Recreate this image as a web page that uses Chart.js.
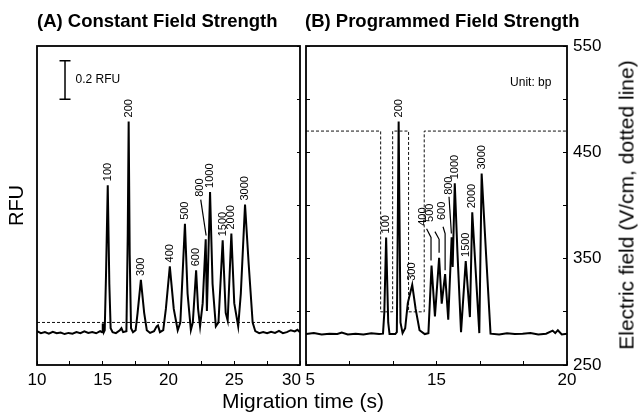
<!DOCTYPE html>
<html>
<head>
<meta charset="utf-8">
<script src="https://cdn.jsdelivr.net/npm/chart.js@4.4.0/dist/chart.umd.min.js"></script>
<style>
  html, body { margin: 0; padding: 0; background: #fff; }
  body { width: 639px; height: 418px; position: relative; overflow: hidden;
         font-family: "Liberation Sans", Arial, sans-serif; color: #000; }
  .panel { position: absolute; top: 0; height: 418px; }
  #wrapA { left: 0; width: 303px; }
  #wrapB { left: 303px; width: 336px; }
  .txt { position: absolute; white-space: nowrap; line-height: 1; }
  .title { top: 12px; font-weight: bold; font-size: 18.5px; }
  #titleA { left: 37px; }
  #titleB { left: 305px; }
  #xTitle { left: 303px; top: 390px; font-size: 21px; transform: translateX(-50%); }
  #fieldTitle { left: 626px; top: 205px; font-size: 21px; transform: translate(-50%, -50%) rotate(-90deg); }
</style>
</head>
<body>
<div class="panel" id="wrapA"><canvas id="chartA" width="303" height="418"></canvas></div>
<div class="panel" id="wrapB"><canvas id="chartB" width="336" height="418"></canvas></div>
<div class="txt title" id="titleA">(A) Constant Field Strength</div>
<div class="txt title" id="titleB">(B) Programmed Field Strength</div>
<div class="txt" id="xTitle">Migration time (s)</div>
<div class="txt" id="fieldTitle">Electric field (V/cm, dotted line)</div>
<script>
// fragment sizes (bp) labelled on the peaks
const sizesBp = ['100', '200', '300', '400', '500', '600', '800', '1000', '1500', '2000', '3000'];

// (A) constant field: trace (time s, RFU)
const timeA = [10.0, 10.3, 10.6, 10.9, 11.2, 11.5, 11.8, 12.1, 12.4, 12.7,
  13.0, 13.3, 13.6, 13.9, 14.2, 14.5, 14.8, 14.95, 15.0, 15.08,
  15.15, 15.25, 15.38, 15.5, 15.6, 15.75, 16.0, 16.3, 16.42, 16.55,
  16.8, 16.9, 16.97, 17.05, 17.15, 17.3, 17.5, 17.65, 17.9, 18.15,
  18.35, 18.6, 18.9, 19.1, 19.2, 19.35, 19.6, 19.8, 20.1, 20.4,
  20.7, 20.9, 21.25, 21.45, 21.7, 21.85, 22.1, 22.25, 22.4, 22.6,
  22.83, 22.92, 23.16, 23.35, 23.6, 23.8, 24.12, 24.35, 24.5, 24.78,
  25.0, 25.3, 25.5, 25.82, 26.1, 26.4, 26.6, 26.9, 27.2, 27.5,
  27.8, 28.1, 28.4, 28.7, 29.0, 29.3, 29.6, 29.8, 30.0];
const rfuA = [0.005, -0.005, 0.0, -0.008, 0.002, -0.006, -0.002, -0.01, -0.004, -0.008,
  0.0, -0.005, 0.004, -0.004, 0.0, -0.006, 0.005, 0.0, 0.045, 0.0,
  0.01, 0.3, 0.76, 0.25, 0.02, 0.0, -0.005, 0.01, 0.02, 0.0,
  0.005, 0.5, 1.09, 0.4, 0.02, 0.0, 0.01, 0.1, 0.27, 0.1,
  0.01, -0.004, 0.005, 0.03, 0.035, 0.0, 0.01, 0.12, 0.34, 0.12,
  0.01, 0.05, 0.56, 0.2, 0.01, 0.05, 0.32, 0.12, 0.03, 0.15,
  0.48, 0.11, 0.725, 0.25, 0.03, 0.05, 0.475, 0.1, 0.06, 0.51,
  0.15, 0.03, 0.2, 0.66, 0.35, 0.05, 0.005, -0.005, 0.0, -0.006,
  0.002, -0.004, 0.006, -0.005, 0.0, 0.01, 0.004, 0.012, 0.0];
const peakTimeA = [15.38, 16.97, 17.9, 20.1, 21.25, 22.1, 22.83, 23.16, 24.12, 24.78, 25.82];
const peakRfuA = [0.76, 1.09, 0.27, 0.34, 0.56, 0.32, 0.48, 0.725, 0.475, 0.51, 0.66];
const calloutsA = [
  { label: '800', text: [22.4, 0.70], line: [[22.45, 0.685], [22.86, 0.5]] }
];
const fieldTimeA = [10, 30];
const fieldA = [290, 290];
const tickLabelsA = ['10', '', '15', '', '20', '', '25', '', '30'];

// (B) programmed field
const timeB = [10.0, 10.3, 10.6, 10.9, 11.2, 11.37, 11.6, 11.9, 12.2, 12.5,
  12.8, 12.95, 13.0, 13.07, 13.15, 13.2, 13.42, 13.48, 13.55, 13.62,
  13.7, 13.8, 13.9, 14.07, 14.2, 14.35, 14.55, 14.69, 14.81, 14.94,
  15.1, 15.2, 15.33, 15.45, 15.58, 15.62, 15.7, 15.8, 15.94, 16.12,
  16.28, 16.37, 16.5, 16.64, 16.73, 16.9, 17.07, 17.4, 17.7, 18.0,
  18.3, 18.6, 18.9, 19.2, 19.45, 19.55, 19.65, 19.8, 20.0];
const rfuB = [-0.01, -0.005, -0.012, -0.008, -0.01, -0.002, -0.012, -0.008, -0.012, -0.006,
  -0.01, -0.008, 0.1, 0.49, 0.05, -0.01, -0.01, 0.0, 1.09, 0.05,
  -0.005, 0.02, 0.15, 0.245, 0.12, 0.01, -0.01, -0.005, 0.344, 0.081,
  0.385, 0.147, 0.30, 0.064, 0.49, 0.337, 0.77, 0.42, 0.0, 0.368,
  0.078, 0.62, 0.32, -0.005, 0.82, 0.4, -0.008, -0.012, -0.006, -0.01,
  -0.008, -0.004, -0.012, -0.008, 0.008, -0.005, 0.01, -0.012, -0.008];
const peakTimeB = [13.07, 13.55, 14.07, 14.81, 15.1, 15.33, 15.58, 15.7, 16.12, 16.37, 16.73];
const peakRfuB = [0.49, 1.09, 0.245, 0.344, 0.385, 0.30, 0.49, 0.77, 0.368, 0.62, 0.82];
const calloutsB = [
  { label: '400', text: [14.48, 0.55], line: [[14.62, 0.535], [14.79, 0.49], [14.79, 0.37]] },
  { label: '500', text: [14.75, 0.57], line: [[14.94, 0.52], [15.1, 0.48], [15.1, 0.41]] },
  { label: '600', text: [15.21, 0.58], line: [[15.25, 0.545], [15.33, 0.51], [15.33, 0.32]] },
  { label: '800', text: [15.48, 0.71], line: [[15.48, 0.70], [15.57, 0.51]] }
];
const fieldTimeB = [10, 12.86, 12.86, 13.32, 13.32, 13.93, 13.93, 14.53, 14.53, 20];
const fieldB = [470, 470, 300, 300, 470, 470, 300, 300, 470, 470];
const tickLabelsB = ['5', '', '', '15', '', '', '20'];
const fieldTickLabels = ['250', '', '350', '', '450', '', '550'];

// 0.2 RFU scale bar and unit note
const scaleBarTime = 12.13;
const scaleBarBase = 1.204;
const scaleBarSpan = 0.2;
const unitTime = 17.82;
const unitRfu = 1.29;

const rfuMin = -0.17;
const rfuMax = 1.48;
const FONT = '"Liberation Sans", Arial, sans-serif';

Chart.defaults.font.family = FONT;
Chart.defaults.color = '#000';

const toPoints = (xs, ys) => xs.map((t, i) => ({ x: t, y: ys[i] }));

// fixed axis sizes so both panels line up with the picture
const fixWidth = w => s => { s.width = w; s.paddingTop = 0; s.paddingBottom = 0; };
const fixHeight = h => s => { s.height = h; s.paddingLeft = 0; s.paddingRight = 0; };

// box round the plot area
const frame = {
  id: 'frame',
  afterDraw(chart) {
    const { ctx, chartArea: a } = chart;
    ctx.save();
    ctx.strokeStyle = '#000';
    ctx.lineWidth = 1.8;
    ctx.strokeRect(a.left, a.top, a.right - a.left, a.bottom - a.top);
    ctx.restore();
  }
};

function peakLabels(times, rfus, callouts) {
  return {
    id: 'peakLabels',
    afterDatasetsDraw(chart) {
      const { ctx, scales: { x, rfu } } = chart;
      ctx.save();
      ctx.font = '11px ' + FONT;
      ctx.fillStyle = '#000';
      ctx.strokeStyle = '#000';
      ctx.lineWidth = 1.2;
      ctx.textAlign = 'left';
      ctx.textBaseline = 'middle';
      sizesBp.forEach((name, i) => {
        const c = callouts.find(o => o.label === name);
        let px, py;
        if (c) {
          px = x.getPixelForValue(c.text[0]);
          py = rfu.getPixelForValue(c.text[1]);
          ctx.beginPath();
          c.line.forEach(([t, v], k) => {
            const X = x.getPixelForValue(t), Y = rfu.getPixelForValue(v);
            if (k) ctx.lineTo(X, Y); else ctx.moveTo(X, Y);
          });
          ctx.stroke();
        } else {
          px = x.getPixelForValue(times[i]);
          py = rfu.getPixelForValue(rfus[i]) - 4;
        }
        ctx.save();
        ctx.translate(px, py);
        ctx.rotate(-Math.PI / 2);
        ctx.fillText(name, 0, 0);
        ctx.restore();
      });
      ctx.restore();
    }
  };
}

const scaleBar = {
  id: 'scaleBar',
  afterDraw(chart) {
    const { ctx, scales: { x, rfu } } = chart;
    const px = x.getPixelForValue(scaleBarTime);
    const top = rfu.getPixelForValue(scaleBarBase + scaleBarSpan);
    const bot = rfu.getPixelForValue(scaleBarBase);
    ctx.save();
    ctx.strokeStyle = '#000';
    ctx.lineWidth = 1.5;
    ctx.beginPath();
    ctx.moveTo(px, top); ctx.lineTo(px, bot);
    ctx.moveTo(px - 5.5, top); ctx.lineTo(px + 5.5, top);
    ctx.moveTo(px - 5.5, bot); ctx.lineTo(px + 5.5, bot);
    ctx.stroke();
    ctx.fillStyle = '#000';
    ctx.font = '12px ' + FONT;
    ctx.textBaseline = 'middle';
    ctx.fillText('0.2 RFU', px + 10.5, (top + bot) / 2);
    ctx.restore();
  }
};

const unitNote = {
  id: 'unitNote',
  afterDraw(chart) {
    const { ctx, scales: { x, rfu } } = chart;
    ctx.save();
    ctx.fillStyle = '#000';
    ctx.font = '12px ' + FONT;
    ctx.textBaseline = 'middle';
    ctx.fillText('Unit: bp', x.getPixelForValue(unitTime), rfu.getPixelForValue(unitRfu));
    ctx.restore();
  }
};

const innerTicks = len => ({ drawOnChartArea: false, tickLength: len, color: '#000', lineWidth: 1 });

const traceStyle = { borderColor: '#000', borderWidth: 2, pointRadius: 0, tension: 0, yAxisID: 'rfu' };
const fieldStyle = { borderColor: '#111', borderWidth: 1, borderDash: [3, 2], pointRadius: 0, tension: 0, yAxisID: 'field' };

new Chart(document.getElementById('chartA'), {
  type: 'line',
  data: {
    datasets: [
      { ...traceStyle, data: toPoints(timeA, rfuA) },
      { ...fieldStyle, data: toPoints(fieldTimeA, fieldA) }
    ]
  },
  options: {
    responsive: false,
    animation: false,
    events: [],
    layout: { padding: { top: 46, right: 3, left: 0, bottom: 0 } },
    plugins: { legend: { display: false }, tooltip: { enabled: false } },
    scales: {
      x: {
        type: 'linear', min: 10, max: 30,
        ticks: {
          stepSize: 2.5, autoSkip: false, maxRotation: 0, padding: 9, font: { size: 17 },
          callback: (v, i) => i === tickLabelsA.length - 1 ? tickLabelsA[i] + '\u2002\u2002' : tickLabelsA[i]
        },
        grid: innerTicks(-4),
        border: { display: false },
        afterFit: fixHeight(53)
      },
      rfu: {
        axis: 'y', position: 'left', min: rfuMin, max: rfuMax,
        ticks: { display: false }, grid: { display: false }, border: { display: false },
        title: { display: true, text: 'RFU', font: { size: 20 }, padding: { top: 5, bottom: 0 } },
        afterFit: fixWidth(37)
      },
      field: {
        axis: 'y', position: 'right', min: 250, max: 550,
        ticks: { display: false, stepSize: 50 },
        grid: innerTicks(-3),
        border: { display: false },
        afterFit: fixWidth(0)
      }
    }
  },
  plugins: [frame, peakLabels(peakTimeA, peakRfuA, calloutsA), scaleBar]
});

new Chart(document.getElementById('chartB'), {
  type: 'line',
  data: {
    datasets: [
      { ...traceStyle, data: toPoints(timeB, rfuB) },
      { ...fieldStyle, data: toPoints(fieldTimeB, fieldB) }
    ]
  },
  options: {
    responsive: false,
    animation: false,
    events: [],
    layout: { padding: { top: 46, right: 0, left: 0, bottom: 0 } },
    plugins: { legend: { display: false }, tooltip: { enabled: false } },
    scales: {
      x: {
        type: 'linear', min: 10, max: 20,
        ticks: {
          stepSize: 10 / 6, autoSkip: false, maxRotation: 0, padding: 9, font: { size: 17 },
          callback: (v, i) => i === 0 ? '\u2002' + tickLabelsB[i] : tickLabelsB[i]
        },
        grid: innerTicks(-4),
        border: { display: false },
        afterFit: fixHeight(53)
      },
      fieldL: {
        axis: 'y', position: 'left', min: 250, max: 550,
        ticks: { display: false, stepSize: 50 },
        grid: innerTicks(-4),
        border: { display: false },
        afterFit: fixWidth(3)
      },
      field: {
        axis: 'y', position: 'right', min: 250, max: 550,
        ticks: { stepSize: 50, padding: 10, font: { size: 17 }, callback: (v, i) => fieldTickLabels[i] },
        grid: innerTicks(-4),
        border: { display: false },
        afterFit: fixWidth(72)
      },
      rfu: { axis: 'y', position: 'left', display: false, min: rfuMin, max: rfuMax }
    }
  },
  plugins: [frame, peakLabels(peakTimeB, peakRfuB, calloutsB), unitNote]
});
</script>
</body>
</html>
